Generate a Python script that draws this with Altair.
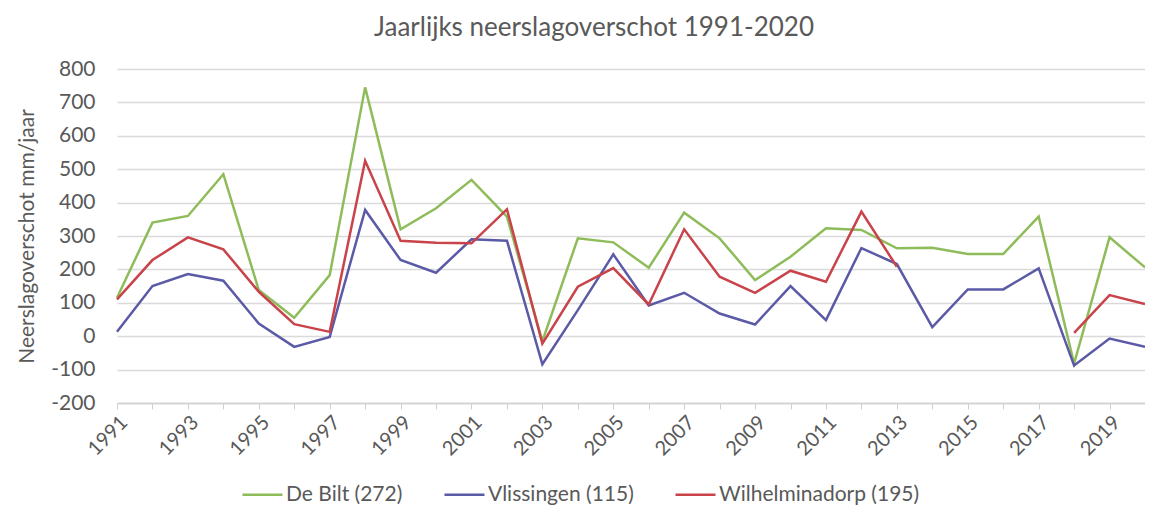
import altair as alt
import pandas as pd

years = [1991, 1992, 1993, 1994, 1995, 1996, 1997, 1998, 1999, 2000,
         2001, 2002, 2003, 2004, 2005, 2006, 2007, 2008, 2009, 2010,
         2011, 2012, 2013, 2014, 2015, 2016, 2017, 2018, 2019, 2020]

de_bilt = [115, 340, 360, 485, 138, 55, 183, 745, 320, 383,
           468, 358, -15, 293, 281, 205, 370, 293, 168, 238,
           323, 318, 263, 265, 246, 246, 358, -82, 296, 206]

vlissingen = [13, 150, 186, 166, 38, -32, -2, 378, 228, 190,
              290, 286, -84, 78, 245, 92, 130, 68, 35, 150,
              48, 264, 216, 27, 140, 140, 203, -88, -7, -32]

wilhelminadorp = [110, 228, 296, 260, 133, 36, 13, 525, 286, 280,
                  278, 380, -22, 148, 204, 95, 320, 178, 130, 196,
                  163, 373, 208, None, None, None, None, 10, 123, 96]

series_names = ["De Bilt (272)", "Vlissingen (115)", "Wilhelminadorp (195)"]
series_colors = ["#8fbc5a", "#5b5aa6", "#c8444a"]
y_ticks = [-200, -100, 0, 100, 200, 300, 400, 500, 600, 700, 800]

rows = []
for name, vals in zip(series_names, [de_bilt, vlissingen, wilhelminadorp]):
    seg = 0
    prev_none = False
    for yr, v in zip(years, vals):
        if v is None:
            prev_none = True
            continue
        if prev_none:
            seg += 1
            prev_none = False
        rows.append({"year": yr, "value": v, "series": name, "seg": f"{name}-{seg}"})
df = pd.DataFrame(rows)

FONT = "Lato"
GREY = "#595959"

chart = alt.Chart(df).mark_line(strokeWidth=2.5).encode(
    x=alt.X("year:Q",
            scale=alt.Scale(domain=[1991, 2020], nice=False, zero=False),
            axis=alt.Axis(values=years, title=None, grid=False,
                          labelExpr="datum.value % 2 == 1 ? '' + datum.value : ''",
                          labelAngle=-45, labelAlign="right", labelBaseline="top",
                          labelFontSize=20, labelFont=FONT, labelColor=GREY,
                          labelPadding=3, labelOverlap=False, labelBound=False,
                          labelFlush=False,
                          tickSize=6, tickColor="#d0d0d0", domainColor="#d0d0d0",
                          domainWidth=1.5)),
    y=alt.Y("value:Q",
            scale=alt.Scale(domain=[-200, 800], nice=False),
            axis=alt.Axis(values=y_ticks, grid=True, gridColor="#dadada", gridWidth=1.6,
                          domain=False, ticks=False, labelPadding=22,
                          labelExpr="'' + datum.value",
                          labelFontSize=21, labelFont=FONT, labelColor=GREY,
                          title="Neerslagoverschot mm/jaar", titleFont=FONT,
                          titleFontSize=21, titleFontWeight="normal", titleColor=GREY,
                          titlePadding=13)),
    color=alt.Color("series:N",
                    scale=alt.Scale(domain=series_names, range=series_colors),
                    legend=alt.Legend(title=None, orient="none", direction="horizontal",
                                      legendX=124, legendY=404,
                                      symbolType="stroke", symbolSize=1600,
                                      symbolStrokeWidth=2.5, labelFontSize=21,
                                      labelFont=FONT, labelColor=GREY, labelLimit=0,
                                      columnPadding=36, labelOffset=2)),
    detail="seg:N",
).properties(
    width=1028, height=334,
    padding={"left": 109, "top": 61, "right": 0, "bottom": 120},
    autosize=alt.AutoSizeParams(type="none"),
    title=alt.TitleParams("Jaarlijks neerslagoverschot  1991-2020", fontSize=26,
                          font=FONT, fontWeight="normal", color=GREY,
                          anchor="middle", frame="group", dx=-37, offset=17),
).configure_view(stroke=None)

chart.save("out.html", embed_options={"renderer": "svg", "actions": False})
